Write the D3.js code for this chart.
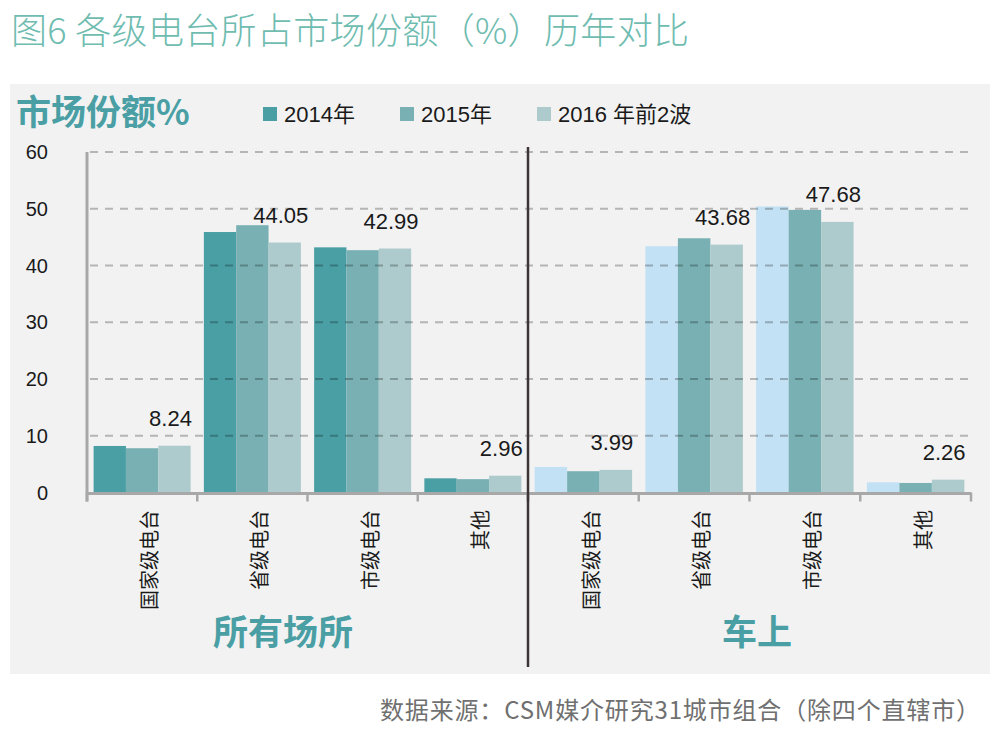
<!DOCTYPE html>
<html>
<head>
<meta charset="utf-8">
<script src="https://cdn.jsdelivr.net/npm/d3@7"></script>
<style>
  body { margin: 0; background: #fff; }
  svg { display: block; }
  text { font-family: "Liberation Sans", Arial, "Noto Sans CJK SC", sans-serif; }
  .cjk { font-family: "Noto Sans CJK SC", "Liberation Sans", sans-serif; }
</style>
</head>
<body>
<svg id="chart" width="998" height="733"></svg>
<script>
// categories and series
const categories = ['国家级电台', '省级电台', '市级电台', '其他'];
const panels = ['所有场所', '车上'];
const seriesNames = ['2014年', '2015年', '2016 年前2波'];
const allVenues2014 = [8.2, 45.9, 43.2, 2.5];
const allVenues2015 = [7.8, 47.1, 42.7, 2.35];
const allVenues2016 = [8.24, 44.05, 42.99, 2.96];
const inCar2014 = [4.5, 43.4, 50.4, 1.8];
const inCar2015 = [3.75, 44.8, 49.8, 1.68];
const inCar2016 = [3.99, 43.68, 47.68, 2.26];
const yTicks = [0, 10, 20, 30, 40, 50, 60];

const svg = d3.select('#chart');
const baseY = 492.5, topY = 152;
const leftX = 87, midX = 528, rightX = 971;

// panel background
svg.append('rect').attr('x', 10).attr('y', 84).attr('width', 980).attr('height', 590).attr('fill', '#f2f2f2');

// title
svg.append('text').attr('class', 'cjk').attr('x', 11).attr('y', 44)
  .attr('font-size', 36).attr('font-weight', 300).attr('fill', '#6fbcb0')
  .attr('textLength', 678).attr('lengthAdjust', 'spacing')
  .text('图6 各级电台所占市场份额（%）历年对比');

// footer
svg.append('text').attr('class', 'cjk').attr('x', 980).attr('y', 719)
  .attr('text-anchor', 'end').attr('font-size', 24).attr('fill', '#707070')
  .attr('textLength', 600).attr('lengthAdjust', 'spacing')
  .text('数据来源：CSM媒介研究31城市组合（除四个直辖市）');

// y label
svg.append('text').attr('class', 'cjk').attr('x', 16).attr('y', 125)
  .attr('font-size', 35).attr('font-weight', 'bold').attr('fill', '#4a9fa5')
  .text('市场份额%');

const y = d3.scaleLinear().domain([0, 60]).range([baseY, topY]);

const panelData = [
  { name: panels[0], range: [leftX, midX], series: [allVenues2014, allVenues2015, allVenues2016],
    colors: ['#4a9fa5', '#78b0b3', '#adcbcd'], labelX: 283 },
  { name: panels[1], range: [midX, rightX], series: [inCar2014, inCar2015, inCar2016],
    colors: ['#c2e1f5', '#78b0b3', '#adcbcd'], labelX: 757 }
];

// legend
const legendColors = ['#4a9fa5', '#78b0b3', '#adcbcd'];
const legendX = [263, 400, 537];
seriesNames.forEach((s, i) => {
  svg.append('rect').attr('x', legendX[i]).attr('y', 107).attr('width', 14).attr('height', 14)
    .attr('fill', legendColors[i]);
  svg.append('text').attr('x', legendX[i] + 21).attr('y', 122)
    .attr('font-size', 22).attr('fill', '#1a1a1a').text(s);
});

// y tick labels
svg.append('g').selectAll('text').data(yTicks).enter().append('text')
  .attr('x', 48).attr('y', d => y(d)).attr('dy', '0.35em')
  .attr('text-anchor', 'end').attr('font-size', 20).attr('fill', '#1a1a1a')
  .text(d => d);

panelData.forEach(p => {
  const x = d3.scaleBand().domain(categories).range(p.range).paddingInner(0.12).paddingOuter(0.06);
  const xSub = d3.scaleBand().domain(d3.range(3)).range([0, x.bandwidth()]);

  const g = svg.append('g');
  categories.forEach((c, ci) => {
    g.selectAll(null).data(p.series.map((s, si) => ({ si, v: s[ci] }))).enter().append('rect')
      .attr('x', d => x(c) + xSub(d.si))
      .attr('y', d => y(d.v))
      .attr('width', xSub.bandwidth())
      .attr('height', d => baseY - y(d.v))
      .attr('fill', d => p.colors[d.si]);
  });

  // value labels for the last series
  svg.append('g').selectAll('text').data(categories).enter().append('text')
    .attr('x', (c, i) => x(c) + xSub(2) + xSub.bandwidth() / 2 - 4)
    .attr('y', (c, i) => y(p.series[2][i]) - 20)
    .attr('text-anchor', 'middle').attr('font-size', 22).attr('fill', '#1a1a1a')
    .text((c, i) => p.series[2][i].toFixed(2));

  // category labels, vertical
  svg.append('g').selectAll('text').data(categories).enter().append('text')
    .attr('class', 'cjk')
    .attr('transform', c => `translate(${x(c) + x.step() / 2},510) rotate(-90)`)
    .attr('text-anchor', 'end').attr('dominant-baseline', 'central')
    .attr('font-size', 20).attr('fill', '#1a1a1a')
    .text(c => c);

  // tick marks at band edges
  const edges = categories.map(c => x(c) - x.step() * x.paddingInner() / 2);
  edges.push(p.range[1]);
  svg.append('g').selectAll('line').data(edges).enter().append('line')
    .attr('x1', d => d).attr('x2', d => d).attr('y1', baseY).attr('y2', baseY + 9)
    .attr('stroke', '#a8a8a8').attr('stroke-width', 2.5);

  // panel name
  svg.append('text').attr('class', 'cjk').attr('x', p.labelX).attr('y', 645)
    .attr('text-anchor', 'middle').attr('font-size', 35).attr('font-weight', 'bold')
    .attr('fill', '#4a9fa5').text(p.name);
});

// grid on top of the bars, faint
svg.append('g').selectAll('line').data(yTicks.slice(1)).enter().append('line')
  .attr('x1', leftX + 3).attr('x2', rightX).attr('y1', d => y(d)).attr('y2', d => y(d))
  .attr('stroke', '#000').attr('stroke-opacity', 0.25).attr('stroke-width', 1.8)
  .attr('stroke-dasharray', '8,7');

// axes
svg.append('line').attr('x1', leftX).attr('x2', leftX).attr('y1', topY).attr('y2', baseY + 9)
  .attr('stroke', '#a8a8a8').attr('stroke-width', 3);
svg.append('line').attr('x1', leftX).attr('x2', rightX).attr('y1', baseY + 1).attr('y2', baseY + 1)
  .attr('stroke', '#a8a8a8').attr('stroke-width', 3);

// divider between panels
svg.append('line').attr('x1', midX).attr('x2', midX).attr('y1', 147).attr('y2', 667)
  .attr('stroke', '#3d3535').attr('stroke-width', 2.5);
</script>
</body>
</html>
